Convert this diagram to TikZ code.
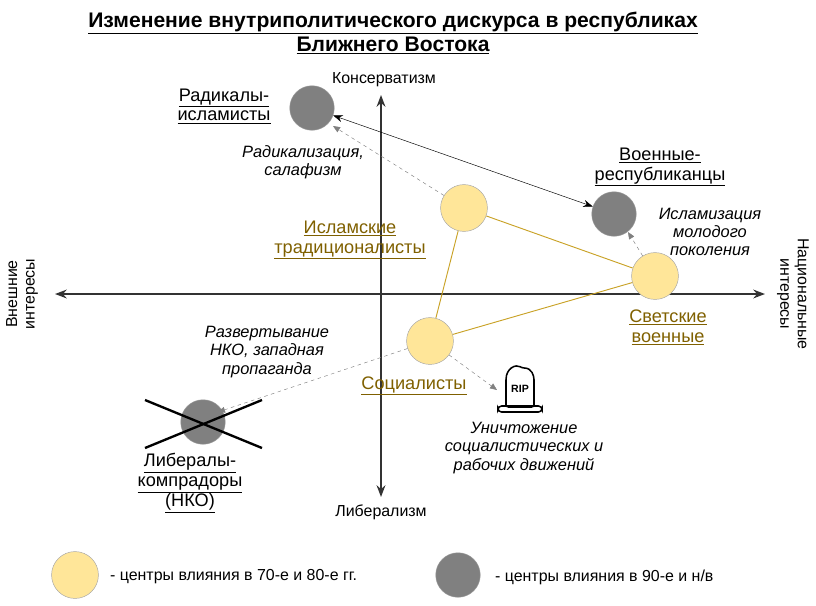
\documentclass[tikz,border=0pt]{standalone}
\usepackage{fontspec}
\setmainfont{Liberation Sans}
\usetikzlibrary{arrows.meta}
\definecolor{sandY}{HTML}{FFE699}
\definecolor{olive}{HTML}{7F6000}
\definecolor{triline}{HTML}{C9A227}
\tikzset{
  oldcentre/.style={circle,draw=gray!70,fill=sandY,minimum size=40,inner sep=0},
  newcentre/.style={circle,draw=gray!80,fill=gray,minimum size=38,inner sep=0},
  plain/.style={align=center,font=\fontsize{13.6}{15}\selectfont},
  actor/.style={align=center,font=\fontsize{15.5}{17}\selectfont},
  note/.style={align=center,font=\fontsize{14}{15.5}\selectfont\itshape},
  drift/.style={dashed,gray,-{Triangle[length=6pt,width=5pt]}},
}
\newcommand{\ul}[1]{\underline{#1}}
\begin{document}
\begin{tikzpicture}[x=0.03cm,y=-0.03cm]
\useasboundingbox (0,0) rectangle (816,605);

% title
\node[font=\fontsize{18}{21}\selectfont\bfseries,align=center] (title) at (393,33)
  {\ul{Изменение внутриполитического дискурса в республиках}\\\ul{Ближнего Востока}};

% axes
\coordinate (west) at (55,294);
\coordinate (east) at (765,294);
\coordinate (north) at (381,95);
\coordinate (south) at (381,497);
\draw[line width=2pt,{Stealth[length=10pt]}-{Stealth[length=10pt]},gray!40!black] (west) -- (east);
\draw[line width=2pt,{Stealth[length=10pt]}-{Stealth[length=10pt]},gray!40!black] (north) -- (south);
\node[plain] (cons) at (384,80) {Консерватизм};
\node[plain] (lib) at (381,512) {Либерализм};
\node[plain,rotate=90] (ext) at (22,294) {Внешние\\интересы};
\node[plain,rotate=-90] (nat) at (793,294) {Национальные\\интересы};

% centres of the 70s-80s
\node[oldcentre] (islam) at (464,208) {};
\node[oldcentre] (army) at (655,276) {};
\node[oldcentre] (social) at (430,341) {};
\draw[triline,thick] (islam) -- (army) -- (social) -- (islam);

% centres of the 90s
\node[newcentre] (radical) at (312,108) {};
\node[newcentre] (repub) at (614,214) {};
\node[newcentre] (ngo) at (203,422) {};
\draw[line width=2pt] (145,400) -- (262,448);
\draw[line width=2pt] (145,448) -- (262,400);

\draw[{Stealth[length=8pt]}-{Stealth[length=8pt]}] (radical) -- (repub);

% labels
\node[actor,text=olive] (islamL) at (350,240) {\ul{Исламские}\\\ul{традиционалисты}};
\node[actor,text=olive] (armyL) at (668,327) {\ul{Светские}\\\ul{военные}};
\node[actor,text=olive] (socialL) at (414,386) {\ul{Социалисты}};
\node[actor] (radicalL) at (224,106) {\ul{Радикалы-}\\\ul{исламисты}};
\node[actor] (repubL) at (660,167) {\ul{Военные-}\\\ul{республиканцы}};
\node[actor] (ngoL) at (190,483) {\ul{Либералы-}\\\ul{компрадоры}\\\ul{(НКО)}};

% RIP
\begin{scope}[shift={(520,392)}]
  \draw[line width=1.3pt,fill=white,rounded corners=2pt] (-14,15) -- (-14,-10) .. controls (-14,-24) and (-4,-28) .. (2,-24)
    .. controls (12,-24) and (14,-16) .. (14,-10) -- (14,15) -- cycle;
  \draw[line width=1.3pt,rounded corners=3pt] (-22,20) -- (-22,14) -- (22,14) -- (22,20) -- cycle;
  \node[font=\fontsize{9}{9}\selectfont\bfseries] (rip) at (0,-3) {RIP};
\end{scope}
\coordinate (ripin) at (497,390);

% drifts
\draw[drift] (islam) -- (333,126);
\draw[drift] (army) -- (628,232);
\draw[drift] (social) -- (218,412);
\draw[drift] (social) -- (ripin);

\node[note] (n1) at (303,162) {Радикализация,\\салафизм};
\node[note] (n2) at (710,232) {Исламизация\\молодого\\поколения};
\node[note] (n3) at (267,352) {Развертывание\\НКО, западная\\пропаганда};
\node[note] (n4) at (524,448) {Уничтожение\\социалистических и\\рабочих движений};

% legend
\node[oldcentre] (key1) at (75,575) {};
\node[plain,anchor=west] (key1L) at (106,577) {- центры влияния в 70-е и 80-е гг.};
\node[newcentre] (key2) at (458,575) {};
\node[plain,anchor=west] (key2L) at (491,577) {- центры влияния в 90-е и н/в};
\end{tikzpicture}
\end{document}
